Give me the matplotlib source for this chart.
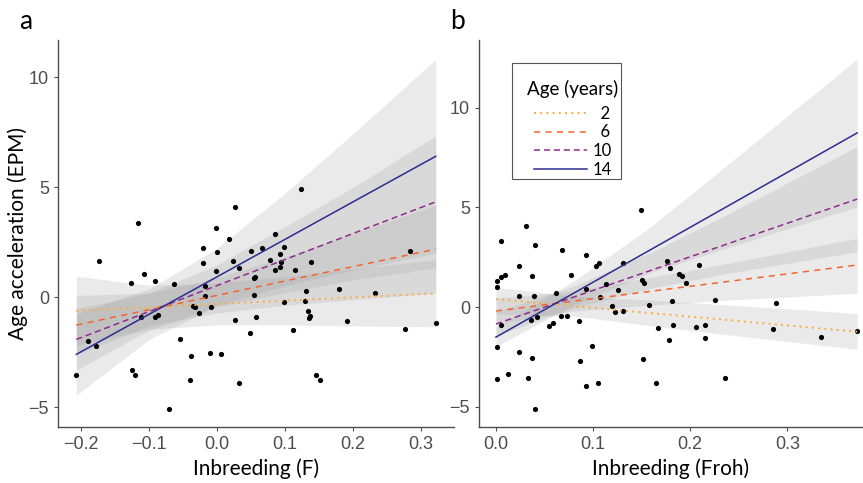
import matplotlib
matplotlib.use("Agg")
import matplotlib.pyplot as plt
from matplotlib.lines import Line2D
from matplotlib.patches import Rectangle

# scatter points, panel a: inbreeding F vs age acceleration
f_vals = [-0.207, -0.190, -0.178, -0.174, -0.125, -0.120, -0.116, -0.126, -0.108, -0.091,
          -0.112, -0.091, -0.087, -0.063, -0.055, -0.070, -0.040, -0.038, -0.035, -0.033,
          -0.026, -0.020, -0.020, -0.017, -0.017, -0.010, -0.009, -0.002, 0.000, -0.001,
          0.006, 0.018, 0.023, 0.027, 0.026, 0.033, 0.032, 0.050, 0.049, 0.054,
          0.056, 0.054, 0.058, 0.085, 0.078, 0.093, 0.098, 0.094, 0.093, 0.085,
          0.066, 0.115, 0.124, 0.138, 0.131, 0.130, 0.099, 0.134, 0.137, 0.135,
          0.112, 0.146, 0.152, 0.180, 0.192, 0.233, 0.284, 0.277, 0.322]
epm_a = [-3.56, -1.99, -2.23, 1.62, -3.32, -3.52, 3.35, 0.62, 1.03, 0.73,
         -0.89, -0.89, -0.80, 0.61, -1.92, -5.10, -3.77, -2.67, -0.41, -0.44,
         -0.70, 2.24, 1.53, 0.51, 0.06, -2.53, -0.44, 3.14, 2.06, 1.20,
         -2.59, 2.62, 1.64, 4.08, -1.03, -3.92, 1.33, 2.09, -1.64, 0.86,
         0.91, 0.11, -0.89, 2.89, 1.70, 1.95, 2.30, 1.59, 1.38, 1.23,
         2.21, 1.24, 4.90, 1.58, 0.30, -0.18, -0.24, -0.64, -0.86, -0.97,
         -1.51, -3.52, -3.77, 0.38, -1.08, 0.21, 2.11, -1.47, -1.17]

# scatter points, panel b: Froh vs age acceleration
froh_vals = [0.001, 0.001, 0.005, 0.005, 0.009, 0.001, 0.005, 0.001, 0.012, 0.024,
             0.024, 0.024, 0.031, 0.033, 0.037, 0.040, 0.037, 0.040, 0.039, 0.036,
             0.042, 0.055, 0.059, 0.062, 0.067, 0.073, 0.068, 0.077, 0.086, 0.087,
             0.093, 0.093, 0.099, 0.093, 0.105, 0.103, 0.106, 0.107, 0.113, 0.119,
             0.123, 0.131, 0.126, 0.131, 0.149, 0.150, 0.152, 0.158, 0.151, 0.165,
             0.167, 0.178, 0.182, 0.181, 0.176, 0.179, 0.189, 0.192, 0.196, 0.209,
             0.226, 0.206, 0.215, 0.215, 0.236, 0.288, 0.285, 0.335, 0.372]
epm_b = [1.32, 1.02, 3.33, 1.51, 1.61, -2.02, -0.92, -3.60, -3.35, -2.26,
         0.57, 2.04, 4.06, -3.55, -2.58, -5.13, 1.57, 3.11, 0.57, -0.64,
         -0.49, -0.94, -0.82, 0.69, -0.44, -0.45, 2.88, 1.62, -0.72, -2.71,
         2.59, 0.89, -1.94, -3.95, -3.81, 2.07, 2.22, 0.50, 1.17, 0.05,
         -0.27, -0.20, 0.84, 2.19, 4.88, 1.35, 1.20, 0.08, -2.62, -3.80,
         -1.05, -1.67, -0.92, 0.30, 2.29, 1.94, 1.67, 1.56, 1.22, 2.09,
         0.35, -0.99, -0.90, -1.54, -3.56, 0.19, -1.09, -1.49, -1.20]

ages = ["2", "6", "10", "14"]
colors = ["#F9AE3F", "#F2642F", "#8D2C8F", "#2E2C8E"]
styles = [(0, (1, 2.2)), (0, (4, 3.5)), (0, (4, 2.5)), "-"]
widths = [1.4, 1.1, 1.1, 1.1]

# fitted lines (value at left and right end of the F range) and CI bands
fit_x_a = [-0.207, 0.322]
fit_a = {"2": [-0.62, 0.17], "6": [-1.27, 2.18], "10": [-1.92, 4.33], "14": [-2.60, 6.40]}
band_x_a = [-0.207, -0.10, 0.0, 0.10, 0.20, 0.322]
band_lo_a = {"2": [-2.19, -1.46, -1.26, -1.26, -1.31, -1.35],
             "6": [-2.62, -1.32, -0.72, -0.37, -0.12, 0.18],
             "10": [-3.32, -1.51, -0.43, 0.20, 0.78, 1.33],
             "14": [-4.45, -1.93, -0.38, 0.52, 1.22, 2.00]}
band_hi_a = {"2": [0.95, 0.54, 0.64, 0.94, 1.29, 1.69],
             "6": [0.08, 0.18, 0.88, 1.83, 2.88, 4.18],
             "10": [-0.52, 0.19, 1.47, 3.20, 4.98, 7.33],
             "14": [-0.75, 0.37, 2.22, 4.72, 7.42, 10.80]}

fit_x_b = [0.0, 0.372]
fit_b = {"2": [0.40, -1.24], "6": [-0.20, 2.11], "10": [-0.85, 5.42], "14": [-1.51, 8.74]}
band_x_b = [0.0, 0.08, 0.16, 0.24, 0.372]
band_lo_b = {"2": [-0.35, -0.45, -0.95, -1.40, -2.12],
             "6": [-0.85, -0.20, 0.10, 0.35, 0.69],
             "10": [-1.45, -0.05, 0.95, 1.70, 2.78],
             "14": [-1.99, 0.10, 1.75, 3.00, 5.03]}
band_hi_b = {"2": [0.99, 0.55, 0.35, 0.10, -0.32],
             "6": [0.45, 0.80, 1.50, 2.20, 3.45],
             "10": [-0.25, 1.05, 2.75, 4.70, 8.06],
             "14": [-1.00, 1.30, 4.05, 7.20, 12.45]}

plt.rcParams["font.family"] = ["Liberation Sans", "DejaVu Sans"]
title_font = "Lato"

fig = plt.figure(figsize=(8.63, 4.83), dpi=100)
ax_a = fig.add_axes([0.0672, 0.116, 0.459, 0.801])
ax_b = fig.add_axes([0.555, 0.116, 0.445, 0.801])


def draw_panel(ax, xs, ys, fit_x, fit, band_x, band_lo, band_hi):
    for age in ages:
        ax.fill_between(band_x, band_lo[age], band_hi[age], color="#999999",
                        alpha=0.2, linewidth=0)
    ax.scatter(xs, ys, s=14, color="black", zorder=3, linewidths=0)
    for age, col, ls, lw in zip(ages, colors, styles, widths):
        ax.plot(fit_x, fit[age], color=col, linestyle=ls, linewidth=lw, zorder=4)
    for side in ["top", "right"]:
        ax.spines[side].set_visible(False)
    for side in ["left", "bottom"]:
        ax.spines[side].set_color("#4D4D4D")
        ax.spines[side].set_linewidth(1.0)
    ax.tick_params(colors="#4D4D4D", labelsize=13, length=3, width=0.8)
    ax.set_yticks([-5, 0, 5, 10])
    ax.set_yticklabels(["\u22125", "0", "5", "10"])


draw_panel(ax_a, f_vals, epm_a, fit_x_a, fit_a, band_x_a, band_lo_a, band_hi_a)
ax_a.set_xlim(-0.234, 0.349)
ax_a.set_ylim(-5.9, 11.68)
ax_a.set_xticks([-0.2, -0.1, 0.0, 0.1, 0.2, 0.3])
ax_a.set_xticklabels(["\u22120.2", "\u22120.1", "0.0", "0.1", "0.2", "0.3"])
ax_a.set_xlabel("Inbreeding (F)", fontsize=15, family=title_font)
ax_a.xaxis.set_label_coords(0.5, -0.08)
ax_a.set_ylabel("Age acceleration (EPM)", fontsize=15, family=title_font)
ax_a.yaxis.set_label_coords(-0.075, 0.5)

draw_panel(ax_b, froh_vals, epm_b, fit_x_b, fit_b, band_x_b, band_lo_b, band_hi_b)
ax_b.set_xlim(-0.0175, 0.378)
ax_b.set_ylim(-6.02, 13.4)
ax_b.set_xticks([0.0, 0.1, 0.2, 0.3])
ax_b.set_xticklabels(["0.0", "0.1", "0.2", "0.3"])
ax_b.set_xlabel("Inbreeding (Froh)", fontsize=15, family=title_font)
ax_b.xaxis.set_label_coords(0.5, -0.08)

# legend: frameless, with its own box drawn around it
handles = [Line2D([], [], color=c, linestyle=ls, linewidth=lw)
           for c, ls, lw in zip(colors, styles, widths)]
labels = ["  2", "  6", "10", "14"]
leg = ax_b.legend(handles, labels, title="Age (years)", loc="upper left",
                  bbox_to_anchor=(0.125, 0.8966), borderaxespad=0, borderpad=0,
                  frameon=False, handlelength=3.2, handletextpad=0.3,
                  labelspacing=0.16, prop={"family": title_font, "size": 12})
leg.get_title().set_fontfamily(title_font)
leg.get_title().set_fontsize(13.5)
leg._legend_box.sep = 5.5  # more room between title and entries
leg.set_zorder(6)
ax_b.add_patch(Rectangle((0.086, 0.641), 0.284, 0.2996, transform=ax_b.transAxes,
                         fill=False, edgecolor="#555555", linewidth=0.8, zorder=6))

fig.text(0.03, 0.955, "a", fontsize=19, family=title_font, ha="center", va="center")
fig.text(0.530, 0.955, "b", fontsize=19, family=title_font, ha="center", va="center")

fig.savefig("out.png", dpi=100)
